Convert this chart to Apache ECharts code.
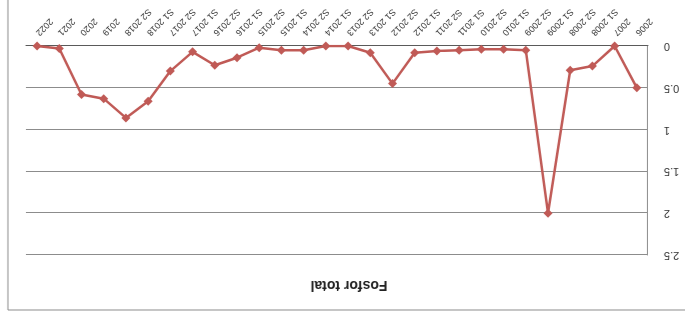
<!DOCTYPE html>
<html>
<head>
<meta charset="utf-8">
<script src="https://cdn.jsdelivr.net/npm/echarts@6/dist/echarts.min.js"></script>
<style>
	html, body { margin: 0; padding: 0; background: #fff; }
	/* the reference picture is upside down, so the whole chart is turned */
	#chart { width: 685px; height: 316px; transform: rotate(180deg); }
</style>
</head>
<body>
<div id="chart"></div>
<script>
var categories = [ "2006", "2007", "S1 2008", "S2 2008", "S1 2009", "S2 2009", "S1 2010", "S2 2010",
		"S1 2011", "S2 2011", "S1 2012", "S2 2012", "S1 2013", "S2 2013", "S1 2014", "S2 2014",
		"S1 2015", "S2 2015", "S1 2016", "S2 2016", "S1 2017", "S2 2017", "S1 2018", "S2 2018",
		"2019", "2020", "2021", "2022" ];
var fosforTotal = [ 0.5, 0.0, 0.24, 0.29, 2.0, 0.05, 0.04, 0.04,
		0.05, 0.06, 0.08, 0.45, 0.08, 0.0, 0.0, 0.05,
		0.05, 0.02, 0.14, 0.23, 0.07, 0.3, 0.66, 0.86,
		0.63, 0.58, 0.03, 0.0 ];
var yTicks = [ 0, 0.5, 1, 1.5, 2, 2.5 ];
var chartTitle = "Fosfor total";

var chart = echarts.init(document.getElementById("chart"));

chart.setOption({
	backgroundColor : "#ffffff",
	animation : false,
	textStyle : {
		fontFamily : "Liberation Sans, Arial, sans-serif"
	},
	graphic : [ {
		type : "rect",
		shape : { x : -5, y : 6, width : 682, height : 330 },
		style : { fill : "none", stroke : "#8c8c8c", lineWidth : 1 }
	}, {
		type : "text",
		x : 336,
		y : 31,
		style : {
			text : chartTitle,
			fontSize : 14,
			fontWeight : "bold",
			fill : "#222222",
			align : "center",
			verticalAlign : "middle",
			fontFamily : "Liberation Sans, Arial, sans-serif"
		}
	} ],
	grid : {
		left : 37,
		right : 26,
		top : 61,
		bottom : 46
	},
	xAxis : {
		type : "category",
		data : categories,
		boundaryGap : true,
		axisLine : { lineStyle : { color : "#5a5a5a", width : 1 } },
		axisTick : { show : false },
		axisLabel : {
			rotate : 45,
			fontSize : 9,
			margin : 12,
			color : "#333333",
			interval : 0
		}
	},
	yAxis : {
		type : "value",
		min : yTicks[0],
		max : yTicks[yTicks.length - 1],
		interval : 0.5,
		axisLine : { show : true, lineStyle : { color : "#8c8c8c" } },
		axisTick : { show : false },
		axisLabel : {
			fontSize : 11,
			margin : 16,
			color : "#333333"
		},
		splitLine : { lineStyle : { color : "#8c8c8c", width : 1 } }
	},
	series : [ {
		name : chartTitle,
		type : "line",
		data : fosforTotal,
		symbol : "diamond",
		symbolSize : 9,
		lineStyle : { color : "#c05a56", width : 2.5 },
		itemStyle : { color : "#c05a56" }
	} ]
});
</script>
</body>
</html>
